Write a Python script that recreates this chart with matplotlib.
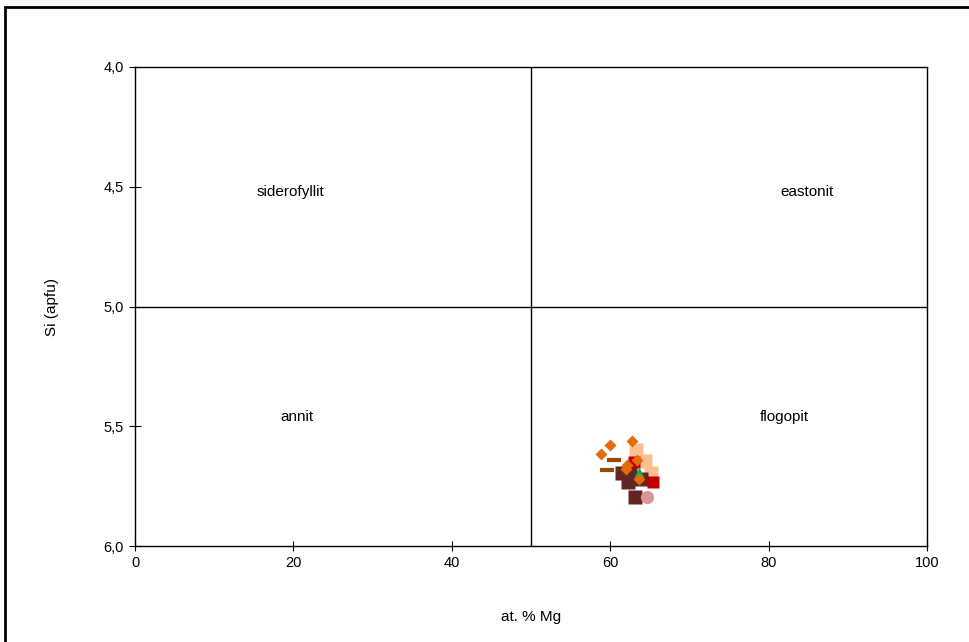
import matplotlib
matplotlib.use("Agg")
import matplotlib.pyplot as plt
from matplotlib.patches import Rectangle
from matplotlib.ticker import FuncFormatter

plt.rcParams['font.family'] = ['Liberation Sans', 'DejaVu Sans']

# data: at. % Mg vs Si (apfu)
peach_mg = [63.2, 64.4, 65.2]
peach_si = [5.599, 5.644, 5.696]
brown_mg = [61.5, 62.5, 62.3, 63.1, 63.9]
brown_si = [5.694, 5.690, 5.732, 5.794, 5.722]
red_mg = [65.4, 63.0]
red_si = [5.732, 5.648]
green_mg = [63.6]
green_si = [5.690]
pink_mg = [64.7]
pink_si = [5.794]
dash_mg = [60.5, 59.6]
dash_si = [5.641, 5.683]
diam_mg = [60.0, 58.9, 62.8, 63.4, 62.1, 62.0, 63.6]
diam_si = [5.578, 5.617, 5.560, 5.641, 5.662, 5.680, 5.722]

fields = ['siderofyllit', 'eastonit', 'annit', 'flogopit']
field_x = [19.6, 84.8, 20.5, 82.0]
field_y = [4.52, 4.52, 5.46, 5.46]

fig = plt.figure(figsize=(9.70, 6.42), dpi=100)
ax = fig.add_axes([135/970, 1-546/642, (927-135)/970, (546-67)/642])

# outer chart frame
fig.patches.append(Rectangle((5/970, -0.02), 1.05, 1-7/642+0.02, transform=fig.transFigure,
                             fill=False, edgecolor='black', linewidth=2))

ax.axvline(50, color='black', lw=1)
ax.axhline(5.0, color='black', lw=1)

ax.plot(peach_mg, peach_si, 's', color='#FAC090', ms=9.5, mec='none')
ax.plot(brown_mg, brown_si, 's', color='#632523', ms=9.5, mec='none')
ax.plot(red_mg, red_si, 's', color='#C00000', ms=8.5, mec='none')
ax.plot(green_mg, green_si, '^', color='#00B050', ms=7, mec='none')
ax.plot(pink_mg, pink_si, 'o', color='#D99694', ms=9.5, mec='none')
ax.plot(dash_mg, dash_si, '_', color='#984806', ms=10, mew=3)
ax.plot(diam_mg, diam_si, 'D', color='#E36C09', ms=6.5, mec='none')

for name, x, y in zip(fields, field_x, field_y):
    ax.text(x, y, name, ha='center', va='center', fontsize=11)

ax.set_xlim(0, 100)
ax.set_ylim(6.0, 4.0)
ax.set_xticks([0, 20, 40, 60, 80, 100])
ax.set_yticks([4.0, 4.5, 5.0, 5.5, 6.0])
ax.yaxis.set_major_formatter(FuncFormatter(lambda v, p: f"{v:.1f}".replace('.', ',')))
ax.tick_params(labelsize=10.5, length=5, direction='out', top=False, right=False)
ax.tick_params(axis='x', direction='inout', length=7)
ax.tick_params(axis='y', direction='inout', length=9)
for s in ax.spines.values():
    s.set_linewidth(1)

ax.set_xlabel('at. % Mg', fontsize=11, labelpad=29)
ax.set_ylabel('Si (apfu)', fontsize=11, labelpad=32)

fig.savefig('out.png', dpi=100)
